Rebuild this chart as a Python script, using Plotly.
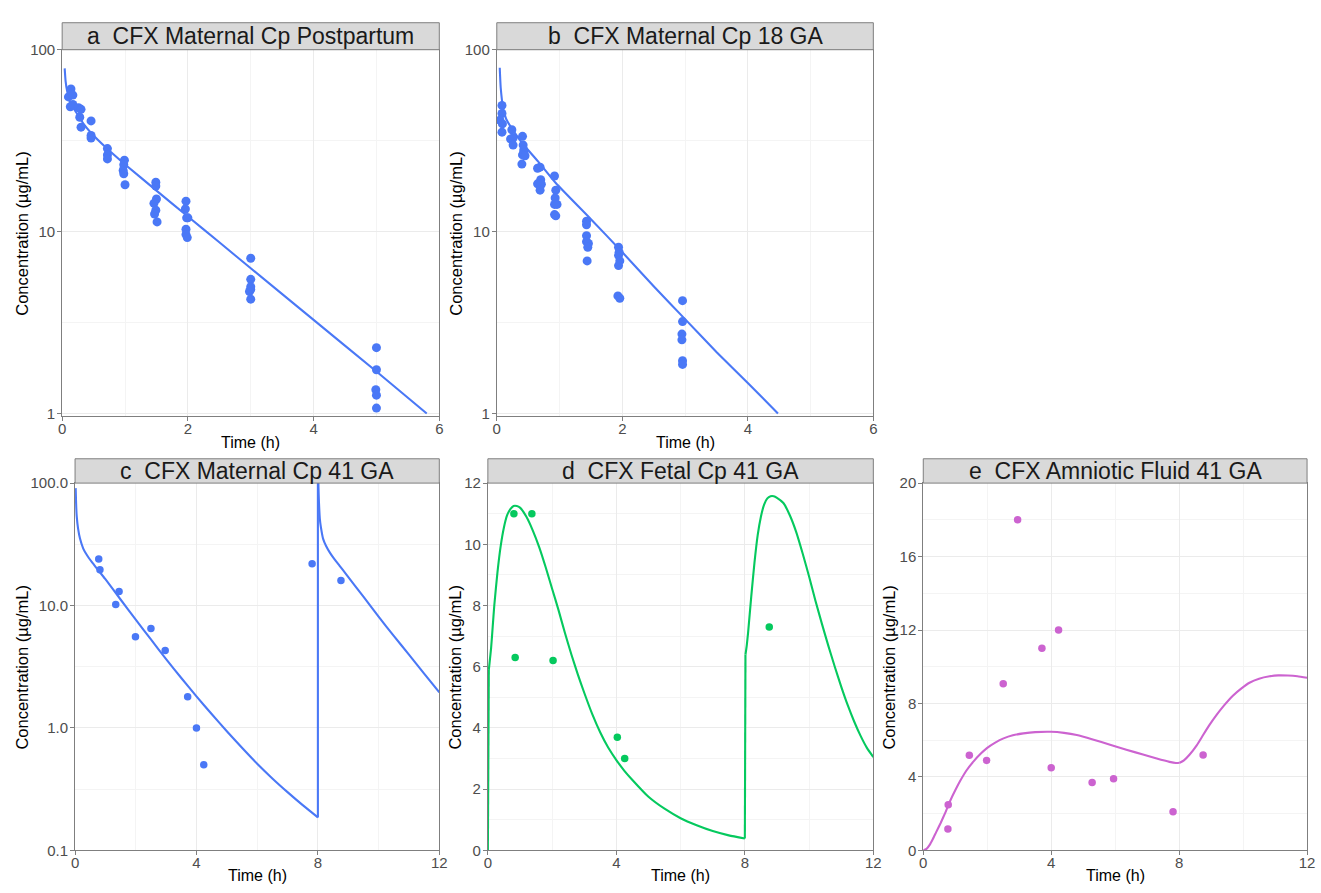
import plotly.graph_objects as go

# ---------------- observed concentrations ----------------
a_time = [0.14, 0.10, 0.17, 0.13, 0.17, 0.26, 0.30, 0.28, 0.30, 0.46, 0.46, 0.46,
          0.72, 0.72, 0.72, 0.99, 0.98, 0.97, 0.98, 1.00,
          1.49, 1.49, 1.50, 1.46, 1.49, 1.47, 1.51,
          1.97, 1.96, 1.98, 2.00, 1.97, 1.97, 1.99,
          3.00, 3.00, 3.00, 3.00, 2.98, 3.00,
          5.00, 5.00, 4.99, 5.00, 5.00]
a_conc = [60.8, 55.0, 56.3, 48.6, 50.0, 48.0, 47.0, 42.5, 37.5, 40.6, 33.8, 32.7,
          28.6, 26.4, 25.1, 24.7, 23.3, 21.7, 20.8, 18.1,
          18.7, 17.8, 15.1, 14.3, 13.1, 12.5, 11.3,
          14.7, 13.3, 11.9, 11.9, 10.3, 9.65, 9.27,
          7.13, 5.46, 4.98, 4.80, 4.68, 4.25,
          2.30, 1.74, 1.35, 1.26, 1.07]

b_time = [0.083, 0.083, 0.05, 0.09, 0.083, 0.24, 0.22, 0.26, 0.26, 0.41, 0.42, 0.43,
          0.43, 0.41, 0.45, 0.40, 0.69, 0.65, 0.70, 0.65, 0.71, 0.69,
          0.92, 0.94, 0.93, 0.92, 0.96, 0.92, 0.94,
          1.43, 1.43, 1.43, 1.43, 1.46, 1.45, 1.44,
          1.94, 1.95, 1.94, 1.96, 1.94, 1.93, 1.96,
          2.96, 2.96, 2.95, 2.95, 2.96, 2.96]
b_conc = [49.4, 44.6, 41.0, 39.1, 35.2, 36.3, 32.3, 32.7, 29.9, 33.4, 29.9, 28.1,
          27.2, 26.4, 26.1, 23.5, 22.6, 22.3, 19.3, 18.3, 18.2, 16.9,
          20.2, 16.9, 15.3, 14.1, 14.1, 12.4, 12.2,
          11.4, 10.9, 9.5, 8.8, 8.6, 8.2, 6.9,
          8.2, 7.7, 7.4, 6.9, 6.5, 4.43, 4.3,
          4.17, 3.2, 2.73, 2.54, 1.95, 1.86]

c_time = [0.78, 0.82, 1.45, 1.34, 1.99, 2.50, 2.97, 3.71, 4.00, 4.24, 7.81, 8.76]
c_conc = [24.0, 19.6, 13.0, 10.2, 5.57, 6.5, 4.3, 1.80, 1.0, 0.50, 21.9, 16.0]

d_time = [0.81, 1.37, 0.85, 2.03, 4.03, 4.26, 8.76]
d_conc = [11.0, 11.0, 6.3, 6.2, 3.7, 3.0, 7.3]

e_time = [0.78, 0.77, 1.44, 1.98, 2.50, 2.95, 3.71, 4.23, 4.00, 5.28, 5.95, 7.81, 8.75]
e_conc = [2.48, 1.16, 5.18, 4.9, 9.08, 18.0, 11.0, 12.0, 4.5, 3.7, 3.9, 2.1, 5.2]

# ---------------- model predictions (one list per dosing interval) ----------------
a_pred_t = [0.04, 0.055, 0.08, 0.13, 0.24, 0.34, 0.45, 0.71, 1.0, 1.5, 2.0, 2.5,
            3.0, 4.0, 5.0, 5.8]
a_pred_c = [79, 67, 59, 51, 44.3, 39.1, 35.2, 28.7, 23.4, 16.8, 12.1, 8.73,
            6.29, 3.27, 1.70, 1.0]

b_pred_t = [0.047, 0.063, 0.10, 0.15, 0.26, 0.41, 0.68, 0.94, 1.5, 2.0, 2.5,
            3.0, 3.5, 4.0, 4.48]
b_pred_c = [79.6, 61.6, 48, 41.6, 36, 30.5, 23.8, 18.5, 11.7, 7.7, 5.0,
            3.3, 2.18, 1.47, 1.0]

c_dose1_t = [0.02, 0.035, 0.054, 0.10, 0.163, 0.27, 0.40, 0.55, 0.71, 1.0, 1.5,
             2.0, 2.5, 3.0, 3.5, 4.0, 4.5, 5.0, 5.5, 6.0, 6.5, 7.0, 7.5, 8.0]
c_dose1_c = [91, 68, 54, 42.5, 35.2, 29.2, 25.6, 22.7, 20.2, 16.4, 11.2,
             7.67, 5.28, 3.65, 2.56, 1.81, 1.30, 0.94, 0.688, 0.51, 0.387, 0.299,
             0.234, 0.186]
c_dose2_t = [8.0, 8.02, 8.035, 8.065, 8.10, 8.17, 8.27, 8.40, 8.55, 8.71, 8.94,
             9.5, 10.0, 10.5, 11.0, 11.5, 12.0]
c_dose2_c = [160, 91, 70, 50.8, 43.5, 35.2, 30.6, 26.9, 23.8, 21.2, 17.9,
             11.8, 8.1, 5.65, 3.97, 2.78, 1.95]

d_start_t = [0.0]
d_start_c = [0.0]
d_dose1_t = [0.03, 0.06, 0.10, 0.15, 0.20, 0.30, 0.40, 0.50, 0.60, 0.70, 0.80,
             0.90, 1.0, 1.2, 1.4, 1.6, 1.8, 2.0, 2.2, 2.4, 2.6, 2.8, 3.0, 3.25,
             3.5, 3.75, 4.0, 4.25, 4.5, 5.0, 5.5, 6.0, 6.5, 7.0, 7.5, 8.0]
d_dose1_c = [5.9, 6.2, 6.6, 7.3, 8.0, 9.1, 9.95, 10.55, 10.95, 11.15, 11.25,
             11.25, 11.2, 10.9, 10.45, 9.9, 9.25, 8.55, 7.85, 7.1, 6.4, 5.75, 5.15,
             4.45, 3.85, 3.35, 2.95, 2.6, 2.3, 1.75, 1.36, 1.05, 0.82, 0.63, 0.49,
             0.385]
d_dose2_t = [8.02, 8.06, 8.10, 8.20, 8.30, 8.40, 8.50, 8.60, 8.70, 8.80, 8.90,
             9.0, 9.2, 9.4, 9.6, 9.8, 10.0, 10.2, 10.4, 10.6, 10.8, 11.0, 11.2,
             11.4, 11.6, 11.8, 12.0]
d_dose2_c = [6.4, 6.7, 7.1, 8.3, 9.4, 10.3, 10.9, 11.3, 11.5, 11.57, 11.57,
             11.52, 11.35, 10.95, 10.4, 9.7, 8.95, 8.15, 7.4, 6.68, 6.0, 5.35, 4.75,
             4.22, 3.75, 3.35, 3.05]

e_dose1_t = [0.0, 0.1, 0.2, 0.3, 0.4, 0.54, 0.7, 0.85, 1.0, 1.16, 1.35, 1.58, 1.8,
             1.99, 2.25, 2.51, 2.8, 3.13, 3.5, 3.99, 4.4, 4.8, 5.3, 5.84, 6.35,
             6.87, 7.3, 7.7, 7.9, 8.02]
e_dose1_c = [0.0, 0.08, 0.3, 0.62, 0.98, 1.48, 2.1, 2.73, 3.27, 3.8, 4.35, 4.86, 5.27,
             5.57, 5.87, 6.1, 6.27, 6.37, 6.44, 6.46, 6.4, 6.28, 6.04, 5.75, 5.48,
             5.22, 5.0, 4.82, 4.76, 4.77]
e_dose2_t = [8.02, 8.15, 8.33, 8.55, 8.75, 8.95, 9.16, 9.4, 9.68, 9.95, 10.2,
             10.5, 10.83, 11.1, 11.4, 11.7, 12.0]
e_dose2_c = [4.77, 4.9, 5.22, 5.72, 6.28, 6.83, 7.35, 7.88, 8.42, 8.82, 9.13,
             9.35, 9.48, 9.53, 9.52, 9.48, 9.4]

# ---------------- styling ----------------
W, H = 1321, 893
BLUE = "#4A78F6"
GREEN = "#05C95E"
PURPLE = "#CC63D0"
BORDER = "#7F7F7F"
GRID = "#EBEBEB"
MINOR = "#F4F4F4"
FONT = "Liberation Sans, Arial, sans-serif"


def xdom(l, r):
    return [l / W, r / W]


def ydom(t, b):
    return [1 - b / H, 1 - t / H]


# panel boxes in pixels: (left, right, top, bottom)
boxes = {
    "a": (58.7, 439.3, 41.5, 415.0),
    "b": (497.3, 877.3, 41.5, 415.0),
    "c": (71.7, 439.3, 483.3, 857.7),
    "d": (488.3, 877.3, 483.3, 857.7),
    "e": (927.7, 1315.0, 483.3, 857.7),
}
strip_tops = {"a": 14.0, "b": 14.0, "c": 458.5, "d": 458.5, "e": 458.5}
titles = {
    "a": "a\u00a0\u00a0CFX Maternal Cp Postpartum",
    "b": "b\u00a0\u00a0CFX Maternal Cp 18 GA",
    "c": "c\u00a0\u00a0CFX Maternal Cp 41 GA",
    "d": "d\u00a0\u00a0CFX Fetal Cp 41 GA",
    "e": "e\u00a0\u00a0CFX Amniotic Fluid 41 GA",
}

fig = go.Figure()

series = [
    ("a", a_time, a_conc, [(a_pred_t, a_pred_c)], BLUE, 9),
    ("b", b_time, b_conc, [(b_pred_t, b_pred_c)], BLUE, 9),
    ("c", c_time, c_conc, [(c_dose1_t, c_dose1_c), (c_dose2_t, c_dose2_c)], BLUE, 7.5),
    ("d", d_time, d_conc, [(d_start_t, d_start_c), (d_dose1_t, d_dose1_c),
                           (d_dose2_t, d_dose2_c)], GREEN, 7.5),
    ("e", e_time, e_conc, [(e_dose1_t, e_dose1_c), (e_dose2_t, e_dose2_c)], PURPLE, 7.5),
]

for i, (key, ot, oc, segments, col, msize) in enumerate(series, start=1):
    xa = "x" if i == 1 else f"x{i}"
    ya = "y" if i == 1 else f"y{i}"
    # smooth curve within each dosing interval
    for st, sc in segments:
        if len(st) > 1:
            fig.add_trace(go.Scatter(x=st, y=sc, mode="lines", xaxis=xa, yaxis=ya,
                                     line=dict(color=col, width=2.1, shape="spline",
                                               smoothing=0.5),
                                     showlegend=False))
    # straight rise at each dose
    for (t0, c0), (t1, c1) in zip(segments[:-1], segments[1:]):
        fig.add_trace(go.Scatter(x=[t0[-1], t1[0]], y=[c0[-1], c1[0]], mode="lines",
                                 xaxis=xa, yaxis=ya,
                                 line=dict(color=col, width=2.1), showlegend=False))
    fig.add_trace(go.Scatter(x=ot, y=oc, mode="markers", xaxis=xa, yaxis=ya,
                             marker=dict(color=col, size=msize), showlegend=False))

common_axis = dict(
    showline=True, mirror=True, linecolor=BORDER, linewidth=1,
    ticks="outside", ticklen=4, tickcolor=BORDER, tickwidth=1,
    tickfont=dict(family=FONT, size=15, color="#4D4D4D"),
    showgrid=True, gridcolor=GRID, gridwidth=1, zeroline=False,
)

axes_cfg = {
    "a": dict(xr=[0, 6], xt=[0, 2, 4, 6], xm=[1, 3, 5],
              ylog=True, yr=[-0.0146, 2], yt=[1, 10, 100], ytt=["1", "10", "100"],
              ym=[3.1623, 31.623]),
    "b": dict(xr=[0, 6], xt=[0, 2, 4, 6], xm=[1, 3, 5],
              ylog=True, yr=[-0.0146, 2], yt=[1, 10, 100], ytt=["1", "10", "100"],
              ym=[3.1623, 31.623]),
    "c": dict(xr=[0, 12], xt=[0, 4, 8, 12], xm=[2, 6, 10],
              ylog=True, yr=[-1, 2], yt=[0.1, 1, 10, 100],
              ytt=["0.1", "1.0", "10.0", "100.0"], ym=[0.31623, 3.1623, 31.623]),
    "d": dict(xr=[0, 12], xt=[0, 4, 8, 12], xm=[2, 6, 10],
              ylog=False, yr=[0, 12], yt=[0, 2, 4, 6, 8, 10, 12],
              ytt=["0", "2", "4", "6", "8", "10", "12"], ym=[1, 3, 5, 7, 9, 11]),
    "e": dict(xr=[0, 12], xt=[0, 4, 8, 12], xm=[2, 6, 10],
              ylog=False, yr=[0, 20], yt=[0, 4, 8, 12, 16, 20],
              ytt=["0", "4", "8", "12", "16", "20"], ym=[2, 6, 10, 14, 18]),
}

layout = dict(
    width=W, height=H, margin=dict(l=0, r=0, t=0, b=0),
    paper_bgcolor="white", plot_bgcolor="white",
    font=dict(family=FONT), showlegend=False,
)

shapes = []
annotations = []

for i, key in enumerate(["a", "b", "c", "d", "e"], start=1):
    l, r, t, b = boxes[key]
    cfg = axes_cfg[key]
    xname = "xaxis" if i == 1 else f"xaxis{i}"
    yname = "yaxis" if i == 1 else f"yaxis{i}"
    yanchor = "y" if i == 1 else f"y{i}"
    xanchor = "x" if i == 1 else f"x{i}"
    layout[xname] = dict(
        common_axis, domain=xdom(l, r), anchor=yanchor, range=cfg["xr"],
        tickmode="array", tickvals=cfg["xt"], ticklabelstandoff=-5,
        minor=dict(tickmode="array", tickvals=cfg["xm"], showgrid=True,
                   gridcolor=MINOR, gridwidth=1, ticks=""),
    )
    ycfg = dict(
        common_axis, domain=ydom(t, b), anchor=xanchor, range=cfg["yr"],
        tickmode="array", tickvals=cfg["yt"], ticktext=cfg["ytt"],
        ticklabelstandoff=-1,
        minor=dict(tickmode="array", tickvals=cfg["ym"], showgrid=True,
                   gridcolor=MINOR, gridwidth=1, ticks=""),
    )
    if cfg["ylog"]:
        ycfg["type"] = "log"
    layout[yname] = ycfg

    # strip header
    st = strip_tops[key]
    shapes.append(dict(type="rect", xref="paper", yref="paper",
                       x0=l / W, x1=r / W, y0=1 - t / H, y1=1 - st / H,
                       fillcolor="#D9D9D9", line=dict(color=BORDER, width=1),
                       layer="above"))
    annotations.append(dict(xref="paper", yref="paper",
                            x=(l + r) / 2 / W, y=1 - (st + t) / 2 / H,
                            text=titles[key], showarrow=False,
                            xanchor="center", yanchor="middle",
                            font=dict(family=FONT, size=23, color="#1A1A1A")))

    # axis titles
    xt_y = 441.5 if key in ("a", "b") else 883.0
    annotations.append(dict(xref="paper", yref="paper",
                            x=(l + r) / 2 / W, y=1 - xt_y / H,
                            text="Time (h)", showarrow=False,
                            xanchor="center", yanchor="middle",
                            font=dict(family=FONT, size=16, color="black")))
    yt_x = {"a": 18, "b": 456, "c": 18, "d": 455, "e": 893}[key]
    annotations.append(dict(xref="paper", yref="paper",
                            x=yt_x / W, y=1 - (t + b) / 2 / H,
                            text="Concentration (\u00b5g/mL)", showarrow=False,
                            textangle=-90, xanchor="center", yanchor="middle",
                            font=dict(family=FONT, size=16.5, color="black")))

layout["shapes"] = shapes
layout["annotations"] = annotations
fig.update_layout(**layout)

fig.write_html("out.html")
